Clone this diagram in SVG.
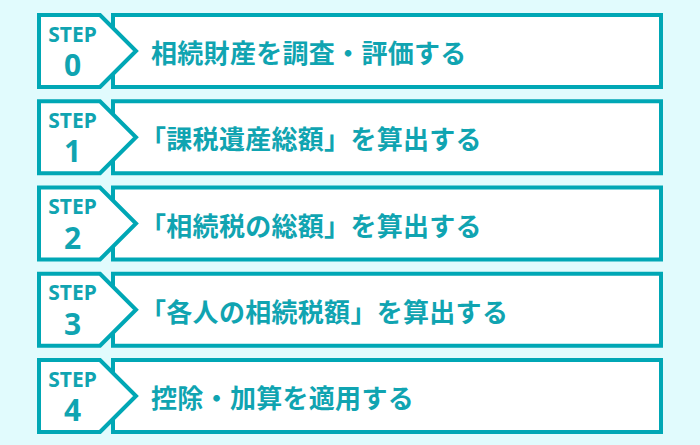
<svg xmlns="http://www.w3.org/2000/svg" width="700" height="445" viewBox="0 0 700 445">
<style>
.box{fill:#fff;stroke:#00a7b5;stroke-width:4}
.step{font-family:"Noto Sans","Noto Sans CJK JP",sans-serif;font-weight:700;font-size:21px;fill:#10a4b1;text-anchor:middle}
.num{font-family:"Noto Sans","Noto Sans CJK JP",sans-serif;font-weight:700;font-size:30px;fill:#10a4b1;text-anchor:middle}
.lbl{font-family:"Noto Sans CJK JP",sans-serif;font-weight:700;font-size:26px;letter-spacing:0.3px;fill:#10a4b1}
</style>
<rect width="700" height="445" fill="#e1fbfd"/>
<g id="connectors"></g>
<g id="step0">
<rect class="box" x="113" y="15" width="548" height="72"/>
<polygon class="box" points="39,15 100,15 136,51 100,87 39,87"/>
<text class="step" x="72.5" y="41.5">STEP</text>
<text class="num" x="72.5" y="76">0</text>
<text class="lbl" x="151" y="63">相続財産を調査・評価する</text>
</g>
<g id="step1" transform="translate(0,86.25)">
<rect class="box" x="113" y="15" width="548" height="72"/>
<polygon class="box" points="39,15 100,15 136,51 100,87 39,87"/>
<text class="step" x="72.5" y="41.5">STEP</text>
<text class="num" x="72.5" y="76">1</text>
<text class="lbl" x="140" y="63">「課税遺産総額」を算出する</text>
</g>
<g id="step2" transform="translate(0,172.5)">
<rect class="box" x="113" y="15" width="548" height="72"/>
<polygon class="box" points="39,15 100,15 136,51 100,87 39,87"/>
<text class="step" x="72.5" y="41.5">STEP</text>
<text class="num" x="72.5" y="76">2</text>
<text class="lbl" x="140" y="63">「相続税の総額」を算出する</text>
</g>
<g id="step3" transform="translate(0,258.75)">
<rect class="box" x="113" y="15" width="548" height="72"/>
<polygon class="box" points="39,15 100,15 136,51 100,87 39,87"/>
<text class="step" x="72.5" y="41.5">STEP</text>
<text class="num" x="72.5" y="76">3</text>
<text class="lbl" x="140" y="63">「各人の相続税額」を算出する</text>
</g>
<g id="step4" transform="translate(0,345)">
<rect class="box" x="113" y="15" width="548" height="72"/>
<polygon class="box" points="39,15 100,15 136,51 100,87 39,87"/>
<text class="step" x="72.5" y="41.5">STEP</text>
<text class="num" x="72.5" y="76">4</text>
<text class="lbl" x="151" y="63">控除・加算を適用する</text>
</g>
</svg>
